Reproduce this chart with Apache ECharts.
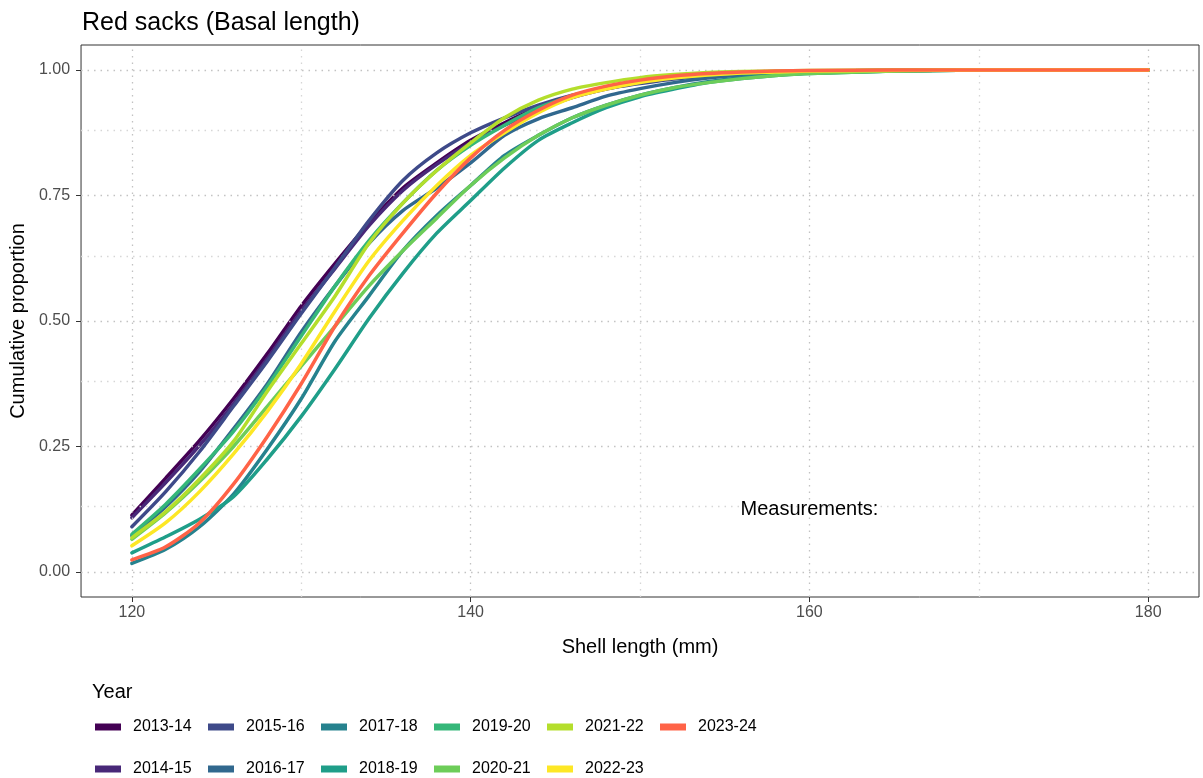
<!DOCTYPE html>
<html>
<head>
<meta charset="utf-8">
<script src="https://cdn.jsdelivr.net/npm/echarts@6/dist/echarts.min.js"></script>
<style>
  html, body { margin: 0; padding: 0; background: #fff; }
  #chart { width: 1203px; height: 778px; }
</style>
</head>
<body>
<div id="chart"></div>
<script>
// Shell lengths (mm) at which the cumulative proportion was evaluated
const shellLength = [120,122,124,126,128,130,132,134,136,138,140,142,144,146,148,150,152,154,156,158,160,165,170,175,180];

// Season labels, in drawing order
const years = ['2013-14','2014-15','2015-16','2016-17','2017-18','2018-19','2019-20','2020-21','2021-22','2022-23','2023-24'];

// Cumulative proportion per season
const y2013_14 = [0.113,0.187,0.262,0.345,0.435,0.53,0.615,0.695,0.765,0.815,0.86,0.895,0.925,0.948,0.965,0.977,0.986,0.992,0.995,0.997,0.998,0.999,1,1,1];
const y2014_15 = [0.108,0.178,0.252,0.335,0.425,0.52,0.605,0.69,0.76,0.812,0.855,0.89,0.92,0.945,0.962,0.975,0.984,0.99,0.994,0.996,0.998,0.999,1,1,1];
const y2015_16 = [0.09,0.16,0.24,0.33,0.42,0.515,0.607,0.70,0.78,0.835,0.875,0.905,0.93,0.95,0.963,0.973,0.982,0.988,0.993,0.996,0.998,0.999,1,1,1];
const y2016_17 = [0.072,0.13,0.20,0.285,0.375,0.478,0.57,0.655,0.72,0.765,0.815,0.87,0.903,0.925,0.948,0.963,0.975,0.984,0.99,0.994,0.997,0.999,1,1,1];
const y2017_18 = [0.017,0.045,0.09,0.155,0.245,0.345,0.46,0.55,0.64,0.71,0.77,0.83,0.87,0.905,0.93,0.95,0.965,0.977,0.985,0.99,0.994,0.998,1,1,1];
const y2018_19 = [0.038,0.07,0.105,0.15,0.225,0.31,0.405,0.505,0.595,0.675,0.74,0.805,0.86,0.895,0.925,0.947,0.962,0.975,0.983,0.989,0.993,0.998,1,1,1];
const y2019_20 = [0.075,0.135,0.205,0.28,0.37,0.47,0.57,0.66,0.735,0.80,0.85,0.89,0.925,0.948,0.965,0.977,0.985,0.99,0.994,0.996,0.998,0.999,1,1,1];
const y2020_21 = [0.065,0.118,0.18,0.25,0.33,0.41,0.49,0.57,0.64,0.705,0.77,0.825,0.87,0.905,0.93,0.95,0.965,0.975,0.983,0.989,0.993,0.998,1,1,1];
const y2021_22 = [0.068,0.12,0.185,0.26,0.36,0.455,0.55,0.655,0.735,0.80,0.855,0.905,0.94,0.962,0.975,0.985,0.991,0.995,0.997,0.998,0.999,1,1,1,1];
const y2022_23 = [0.052,0.098,0.16,0.235,0.32,0.415,0.52,0.62,0.70,0.77,0.83,0.875,0.915,0.945,0.962,0.975,0.984,0.99,0.994,0.996,0.998,0.999,1,1,1];
const y2023_24 = [0.024,0.05,0.098,0.175,0.27,0.375,0.49,0.59,0.675,0.755,0.825,0.88,0.92,0.95,0.968,0.98,0.988,0.993,0.996,0.998,0.999,1,1,1,1];

const seriesValues = [y2013_14,y2014_15,y2015_16,y2016_17,y2017_18,y2018_19,y2019_20,y2020_21,y2021_22,y2022_23,y2023_24];

// Tick positions
const xTicks = [120,140,160,180];
const xMinorTicks = [130,150,170];
const yTicks = [0,0.25,0.5,0.75,1];
const yMinorTicks = [0.125,0.375,0.625,0.875];

// Annotation
const noteText = 'Measurements:';
const notePos = [160, 0.125];

const palette = ['#440154','#482878','#3E4A89','#31688E','#26828E','#1F9E89','#35B779','#6DCD59','#B4DE2C','#FDE725','#FF6347'];

const FONT = 'Liberation Sans, Arial, Helvetica, sans-serif';

const chart = echarts.init(document.getElementById('chart'), null, { renderer: 'canvas' });

const gridLine = (lineColor) => ({ color: lineColor, type: [1.5, 5], width: 1.3 });

// Background grid (major and minor, dotted)
const gridSeries = {
  type: 'line',
  name: '__grid',
  data: [],
  silent: true,
  z: 1,
  markLine: {
    silent: true,
    symbol: 'none',
    label: { show: false },
    animation: false,
    data: [
      ...xTicks.map(v => ({ xAxis: v, lineStyle: gridLine('#c2c2c2') })),
      ...xMinorTicks.map(v => ({ xAxis: v, lineStyle: gridLine('#d6d6d6') })),
      ...yTicks.map(v => ({ yAxis: v, lineStyle: gridLine('#c2c2c2') })),
      ...yMinorTicks.map(v => ({ yAxis: v, lineStyle: gridLine('#d6d6d6') }))
    ]
  }
};

const lineSeries = years.map((yr, i) => ({
  type: 'line',
  name: yr,
  data: shellLength.map((x, j) => [x, seriesValues[i][j]]),
  showSymbol: false,
  symbol: 'none',
  smooth: 0.25,
  color: palette[i],
  lineStyle: { width: 3.5, color: palette[i], cap: 'round', join: 'round' },
  z: 3 + i,
  animation: false
}));

const noteSeries = {
  type: 'scatter',
  name: '__note',
  data: [notePos],
  symbolSize: 0,
  silent: true,
  z: 20,
  itemStyle: { opacity: 1 },
  label: {
    show: true,
    position: 'inside',
    formatter: noteText,
    color: '#000',
    opacity: 1,
    textBorderWidth: 0,
    fontSize: 20,
    fontFamily: FONT
  }
};

// Legend: entries run down two rows, column by column
const legendItems = years.map((yr, i) => ({
  orient: 'horizontal',
  left: 95 + Math.floor(i / 2) * 113,
  top: 719 + (i % 2) * 42,
  itemWidth: 26,
  itemHeight: 7,
  icon: 'rect',
  selectedMode: false,
  padding: 0,
  data: [yr],
  textStyle: { fontSize: 16, color: '#000', fontFamily: FONT, padding: [0, 0, 0, 7] }
}));

chart.setOption({
  backgroundColor: '#fff',
  animation: false,
  title: [
    { text: 'Red sacks (Basal length)', left: 77, top: 6,
      textStyle: { fontSize: 25, fontWeight: 'normal', color: '#000', fontFamily: FONT } },
    { text: 'Year', left: 87, top: 677,
      textStyle: { fontSize: 20, fontWeight: 'normal', color: '#000', fontFamily: FONT } }
  ],
  legend: legendItems,
  grid: { left: 81, right: 4, top: 45, bottom: 181, show: true, borderColor: '#333', borderWidth: 1, containLabel: false },
  xAxis: {
    type: 'value', min: 117, max: 183,
    name: 'Shell length (mm)', nameLocation: 'middle', nameGap: 40,
    nameTextStyle: { fontSize: 20, color: '#000', fontFamily: FONT },
    axisLine: { show: false, onZero: false },
    axisTick: { show: true, length: 5, customValues: xTicks, lineStyle: { color: '#333' } },
    axisLabel: { customValues: xTicks, fontSize: 16, color: '#4d4d4d', fontFamily: FONT, margin: 8 },
    splitLine: { show: false }
  },
  yAxis: {
    type: 'value', min: -0.05, max: 1.05,
    name: 'Cumulative proportion', nameLocation: 'middle', nameGap: 53,
    nameTextStyle: { fontSize: 20, color: '#000', fontFamily: FONT },
    axisLine: { show: false, onZero: false },
    axisTick: { show: true, length: 5, customValues: yTicks, lineStyle: { color: '#333' } },
    axisLabel: { customValues: yTicks, fontSize: 16, color: '#4d4d4d', fontFamily: FONT, margin: 11,
      formatter: v => v.toFixed(2) },
    splitLine: { show: false }
  },
  series: [gridSeries, ...lineSeries, noteSeries]
});
</script>
</body>
</html>
